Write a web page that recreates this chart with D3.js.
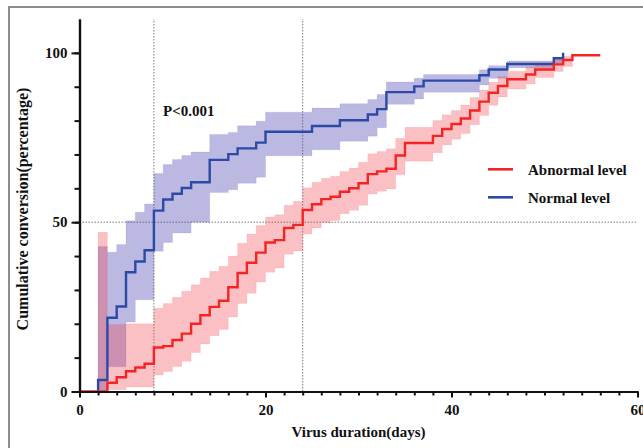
<!DOCTYPE html>
<html>
<head>
<meta charset="utf-8">
<script src="https://cdn.jsdelivr.net/npm/d3@7"></script>
<style>
  html, body { margin: 0; padding: 0; background: #fff; }
  svg { display: block; }
  text { font-family: "Liberation Serif", "Times New Roman", serif; font-weight: bold; fill: #111; }
</style>
</head>
<body>
<svg id="chart" width="643" height="448"></svg>
<script>
// Cumulative conversion (%) by virus duration, step curves with confidence bands.

// Abnormal level group
const abnormalDays   = [0, 3, 4, 5, 6, 7, 8, 9, 10, 11, 12, 13, 14, 15, 16, 17, 18, 19, 20, 21, 22, 23, 24, 25, 26, 27, 28, 29, 30, 31, 32, 33, 34, 35, 38, 39, 40, 41, 42, 43, 44, 45, 46, 48, 49, 51, 52, 53, 56];
const abnormalValues = [0, 2.6, 4.2, 6.0, 7.1, 8.2, 13.0, 13.4, 15.2, 17.1, 20.0, 22.5, 25.0, 26.8, 30.8, 35.0, 38.0, 41.0, 44.0, 44.7, 48.3, 49.2, 53.6, 55.3, 56.8, 57.5, 59.0, 60.0, 61.5, 64.2, 65.0, 65.8, 69.7, 73.4, 75.5, 77.5, 79.0, 80.6, 83.0, 85.6, 88.2, 90.2, 92.2, 93.6, 95.1, 96.6, 97.9, 99.3, 99.3];

const abnormalBandDays  = [2, 3, 4, 5, 6, 7, 8, 9, 10, 11, 12, 13, 14, 15, 16, 17, 18, 19, 20, 21, 22, 23, 24, 25, 26, 27, 28, 29, 30, 31, 32, 33, 34, 35, 38, 39, 40, 41, 42, 43, 44, 45, 46, 48, 49, 51, 52, 53];
const abnormalBandLower = [0, 0.5, 0.5, 1.3, 1.3, 1.3, 4.9, 5.9, 7.4, 8.9, 11.5, 14.0, 16.5, 18.3, 22.0, 26.0, 29.0, 32.3, 35.2, 36.5, 40.5, 41.5, 46.5, 48.3, 49.8, 50.5, 52.5, 53.5, 55.0, 58.3, 59.1, 59.8, 64.0, 68.0, 70.5, 72.8, 74.5, 76.2, 78.8, 81.5, 84.5, 87.0, 89.3, 90.8, 92.7, 94.5, 96.0, 96.0];
const abnormalBandUpper = [47.0, 19.8, 19.8, 20.0, 20.0, 20.0, 24.6, 26.0, 27.8, 29.6, 31.5, 33.5, 35.5, 37.0, 40.0, 43.8, 46.5, 49.0, 51.5, 52.2, 55.0, 56.2, 60.2, 61.8, 63.0, 63.6, 65.0, 66.0, 67.7, 70.2, 70.9, 71.7, 74.8, 78.0, 80.0, 81.7, 83.0, 84.6, 86.8, 89.0, 91.3, 93.0, 94.6, 95.8, 97.0, 98.0, 99.0, 99.0];

// Normal level group
const normalDays   = [2, 3, 4, 5, 6, 7, 8, 9, 10, 11, 12, 14, 16, 17, 19, 20, 25, 28, 31, 32, 33, 36, 37, 43, 44, 46, 51, 52];
const normalValues = [3.4, 21.8, 25.1, 35.2, 38.4, 41.7, 53.4, 56.7, 58.4, 60.1, 61.8, 68.4, 70.1, 71.8, 73.5, 76.7, 78.4, 80.1, 81.8, 83.4, 88.4, 90.1, 91.8, 93.4, 95.1, 96.7, 98.4, 100];
const normalBandLower = [0.3, 7.3, 7.3, 20.5, 27.1, 27.1, 41.4, 44.0, 46.8, 46.8, 50.0, 58.8, 59.6, 61.5, 63.3, 69.6, 71.4, 73.9, 75.4, 77.9, 84.8, 86.4, 88.4, 90.5, 92.5, 95.6, 96.5, 96.5];
const normalBandUpper = [42.8, 41.1, 43.4, 50.4, 52.9, 55.4, 64.4, 67.0, 68.5, 69.7, 70.7, 75.9, 76.5, 78.5, 79.8, 82.5, 83.7, 85.0, 86.2, 87.7, 91.4, 92.5, 93.6, 95.0, 96.2, 97.6, 98.8, 98.8];

const xTicksMajor = [0, 20, 40, 60];
const yTicksMajor = [0, 50, 100];
const refDays = [8, 24];
const refPercent = 50;
const seriesNames = ["Abnormal level", "Normal level"];
const pLabel = "P<0.001";
const xTitle = "Virus duration(days)";
const yTitle = "Cumulative conversion(percentage)";

const svg = d3.select("#chart");

// outer frame
svg.append("rect")
  .attr("x", 9).attr("y", 7).attr("width", 700).attr("height", 500)
  .attr("fill", "none").attr("stroke", "#8c8c8c").attr("stroke-width", 2);

const x = d3.scaleLinear().domain([0, 60]).range([79.5, 637.5]);
const y = d3.scaleLinear().domain([0, 110]).range([391.5, 19]);

const RED = "#f42424";
const BLUE = "#2c49a6";

// reference lines
const refG = svg.append("g").attr("stroke", "#7a7a7a").attr("stroke-width", 1).attr("stroke-dasharray", "1.5,1.5");
refDays.forEach(d => {
  refG.append("line").attr("x1", x(d)).attr("x2", x(d)).attr("y1", y(0)).attr("y2", y(110));
});
refG.append("line").attr("x1", x(0)).attr("x2", x(60)).attr("y1", y(refPercent)).attr("y2", y(refPercent));

// confidence bands
function bandRows(days, lo, hi) {
  return days.map((d, i) => ({ d, lo: lo[i], hi: hi[i] }));
}
const area = d3.area()
  .curve(d3.curveStepAfter)
  .x(r => x(r.d))
  .y0(r => y(r.lo))
  .y1(r => y(r.hi));

svg.append("path")
  .datum(bandRows(normalDays, normalBandLower, normalBandUpper))
  .attr("d", area)
  .attr("fill", "rgba(70,66,175,0.37)")
  .attr("stroke", "rgba(70,66,175,0.25)")
  .attr("stroke-width", 0.8)
  .attr("stroke-dasharray", "1,1");

svg.append("path")
  .datum(bandRows(abnormalBandDays, abnormalBandLower, abnormalBandUpper))
  .attr("d", area)
  .attr("fill", "rgba(240,60,70,0.32)")
  .attr("stroke", "rgba(240,60,70,0.22)")
  .attr("stroke-width", 0.8)
  .attr("stroke-dasharray", "1,1");

// step curves
const line = d3.line().curve(d3.curveStepAfter).x(r => x(r.d)).y(r => y(r.v));

const normalRows = [{ d: normalDays[0], v: 0 }].concat(normalDays.map((d, i) => ({ d, v: normalValues[i] })));
svg.append("path")
  .datum(normalRows)
  .attr("d", line)
  .attr("fill", "none").attr("stroke", BLUE).attr("stroke-width", 2.4);

const abnormalRows = abnormalDays.map((d, i) => ({ d, v: abnormalValues[i] }));
svg.append("path")
  .datum(abnormalRows)
  .attr("d", line)
  .attr("fill", "none").attr("stroke", RED).attr("stroke-width", 2.4);

// axes
function styleAxis(g) {
  g.selectAll("path.domain").attr("stroke", "#111").attr("stroke-width", 2.2);
  g.selectAll(".tick line").attr("stroke", "#111").attr("stroke-width", 2);
  g.selectAll("text").attr("font-size", 15).attr("font-family", "Liberation Serif, serif").attr("font-weight", "bold").attr("fill", "#111");
}

svg.append("g")
  .attr("transform", `translate(0,${y(0)})`)
  .call(d3.axisBottom(x).tickValues(d3.range(0, 61, 2)).tickSize(4).tickSizeOuter(0).tickFormat(""))
  .call(styleAxis);
svg.append("g")
  .attr("transform", `translate(0,${y(0)})`)
  .call(d3.axisBottom(x).tickValues(xTicksMajor).tickSize(6).tickSizeOuter(0).tickPadding(7).tickFormat(d3.format("d")))
  .call(styleAxis);

svg.append("g")
  .attr("transform", `translate(${x(0)},0)`)
  .call(d3.axisLeft(y).tickValues(d3.range(0, 101, 10)).tickSize(5).tickSizeOuter(0).tickFormat(""))
  .call(styleAxis);
svg.append("g")
  .attr("transform", `translate(${x(0)},0)`)
  .call(d3.axisLeft(y).tickValues(yTicksMajor).tickSize(8).tickSizeOuter(0).tickPadding(4).tickFormat(d3.format("d")))
  .call(styleAxis);

// titles
svg.append("text")
  .attr("x", 358.5).attr("y", 437)
  .attr("text-anchor", "middle").attr("font-size", 15)
  .text(xTitle);
svg.append("text")
  .attr("transform", "translate(28,209) rotate(-90)")
  .attr("text-anchor", "middle").attr("font-size", 16)
  .text(yTitle);

svg.append("text")
  .attr("x", 163).attr("y", 116).attr("font-size", 15)
  .text(pLabel);

// legend
const legend = svg.append("g");
[RED, BLUE].forEach((c, i) => {
  const ly = 169.3 + i * 28;
  legend.append("line").attr("x1", 488).attr("x2", 513).attr("y1", ly).attr("y2", ly)
    .attr("stroke", c).attr("stroke-width", 2.6);
  legend.append("text").attr("x", 528).attr("y", ly).attr("dy", "0.35em")
    .attr("font-size", 15).text(seriesNames[i]);
});
</script>
</body>
</html>
